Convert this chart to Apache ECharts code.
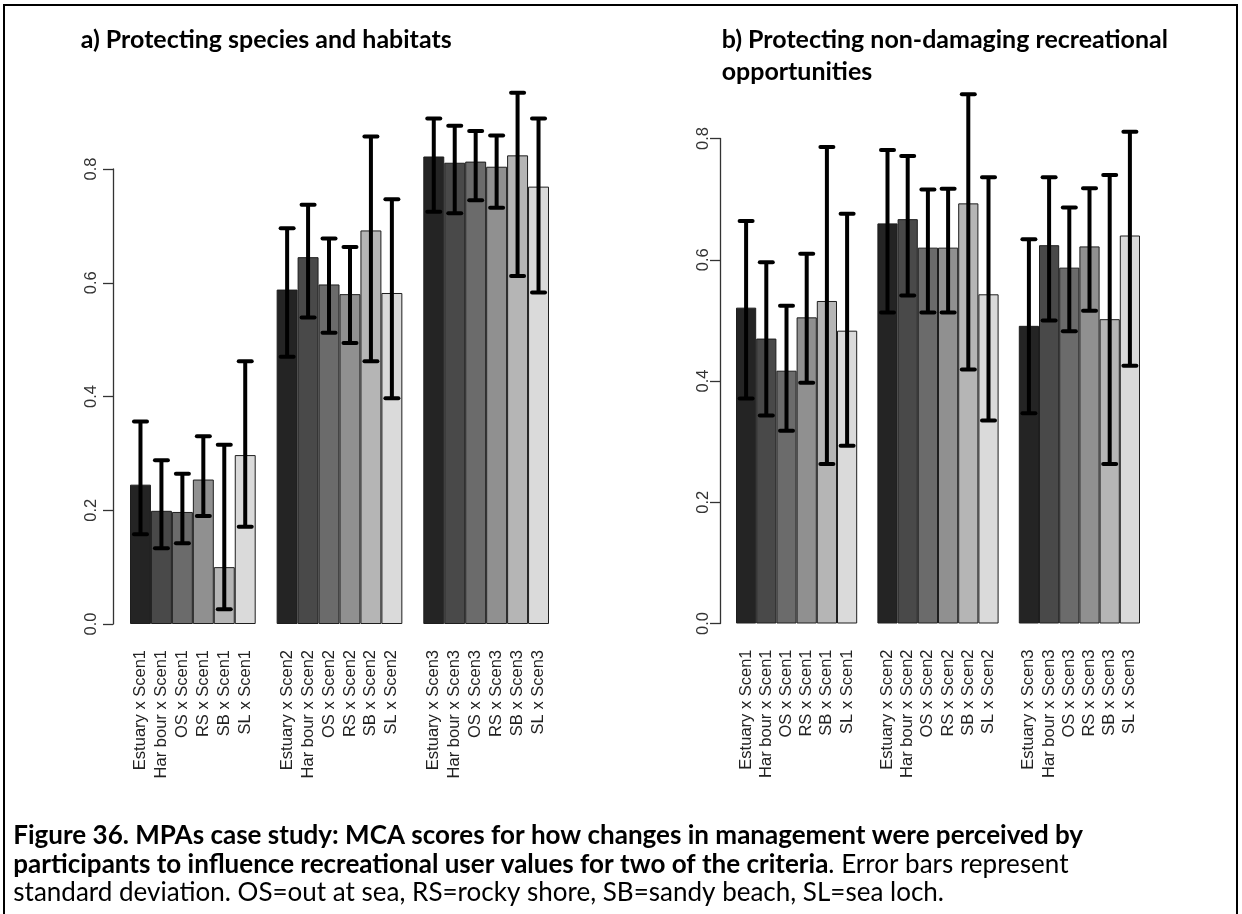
<!DOCTYPE html>
<html>
<head>
<meta charset="utf-8">
<title>Figure 36 - MPAs case study</title>
<script src="https://cdn.jsdelivr.net/npm/echarts@6.0.0/dist/echarts.min.js"></script>
<style>
    html, body { margin: 0; padding: 0; background: #fff; }
    #chart { width: 1242px; height: 914px; }
</style>
</head>
<body>
<div id="chart"></div>
<script>
// categories
const sites = ["Estuary", "Har bour", "OS", "RS", "SB", "SL"];
const scenarios = ["Scen1", "Scen2", "Scen3"];
const barColors = ["#242424", "#494949", "#6b6b6b", "#909090", "#b5b5b5", "#dadada"];

// a) Protecting species and habitats  (one row per scenario, one value per site)
const speciesMean = [
    [0.245, 0.199, 0.197, 0.254, 0.100, 0.297],
    [0.588, 0.645, 0.597, 0.580, 0.692, 0.582],
    [0.822, 0.811, 0.813, 0.804, 0.824, 0.769]
];
const speciesLow = [
    [0.158, 0.133, 0.142, 0.190, 0.026, 0.171],
    [0.470, 0.539, 0.512, 0.494, 0.462, 0.397],
    [0.725, 0.722, 0.745, 0.732, 0.612, 0.583]
];
const speciesHigh = [
    [0.356, 0.288, 0.264, 0.330, 0.315, 0.462],
    [0.696, 0.737, 0.678, 0.663, 0.857, 0.747],
    [0.889, 0.876, 0.867, 0.859, 0.934, 0.889]
];

// b) Protecting non-damaging recreational opportunities
const recMean = [
    [0.521, 0.470, 0.417, 0.505, 0.532, 0.483],
    [0.660, 0.667, 0.620, 0.620, 0.693, 0.543],
    [0.491, 0.624, 0.587, 0.622, 0.502, 0.640]
];
const recLow = [
    [0.371, 0.343, 0.318, 0.397, 0.263, 0.293],
    [0.513, 0.541, 0.513, 0.513, 0.419, 0.335],
    [0.347, 0.500, 0.482, 0.516, 0.263, 0.425]
];
const recHigh = [
    [0.664, 0.596, 0.524, 0.610, 0.786, 0.676],
    [0.781, 0.771, 0.716, 0.717, 0.873, 0.736],
    [0.634, 0.736, 0.686, 0.718, 0.740, 0.811]
];

const yMin = 0, yMax = 0.8, yStep = 0.2;

// 每个场景之间空一格（R barplot beside=TRUE 的样子）
const slotLabels = [];
scenarios.forEach((s, g) => {
    if (g > 0) slotLabels.push("");
    sites.forEach(site => slotLabels.push(site + " x " + s));
});
const slotOf = (g, i) => g * (sites.length + 1) + i;

function barData(mean) {
    const out = slotLabels.map(() => "-");
    mean.forEach((row, g) => row.forEach((v, i) => {
        out[slotOf(g, i)] = { value: v, itemStyle: { color: barColors[i] } };
    }));
    return out;
}
function errData(low, high) {
    const out = [];
    low.forEach((row, g) => row.forEach((v, i) => out.push([slotOf(g, i), v, high[g][i]])));
    return out;
}

function renderErr(params, api) {
    const lo = api.coord([api.value(0), api.value(1)]);
    const hi = api.coord([api.value(0), api.value(2)]);
    const half = 6.5;
    const st = { stroke: "#000", lineWidth: 4, lineCap: "round" };
    return {
        type: "group",
        children: [
            { type: "line", shape: { x1: lo[0], y1: lo[1], x2: hi[0], y2: hi[1] }, style: { stroke: "#000", lineWidth: 4 } },
            { type: "line", shape: { x1: lo[0] - half, y1: lo[1], x2: lo[0] + half, y2: lo[1] }, style: st },
            { type: "line", shape: { x1: hi[0] - half, y1: hi[1], x2: hi[0] + half, y2: hi[1] }, style: st }
        ]
    };
}

const labelFont = "'Liberation Sans', Arial, sans-serif";
const docFont = "Lato";

const measureCtx = document.createElement("canvas").getContext("2d");
function fitFont(text, weight, width) {
    measureCtx.font = weight + " 100px " + docFont;
    return 100 * width / measureCtx.measureText(text).width;
}

const grids = [
    { left: 130, top: 169, width: 419, height: 455 },
    { left: 736, top: 138.5, width: 404, height: 485 }
];
const yOffsets = [17, 16];
const yLabelMargins = [13, 8];

const xAxes = grids.map((g, k) => ({
    type: "category", gridIndex: k, data: slotLabels,
    axisLine: { show: false }, axisTick: { show: false },
    axisLabel: { rotate: 90, interval: 0, margin: 26, fontSize: 16.5, fontFamily: labelFont, color: "#222" }
}));
const yAxes = grids.map((g, k) => ({
    type: "value", gridIndex: k, min: yMin, max: yMax, interval: yStep, offset: yOffsets[k],
    splitLine: { show: false },
    axisLine: { show: true, lineStyle: { color: "#333", width: 1.3 } },
    axisTick: { show: true, length: 10, lineStyle: { color: "#333", width: 1.3 } },
    axisLabel: { rotate: 90, margin: yLabelMargins[k], fontSize: 16.5, fontFamily: labelFont, color: "#333",
        formatter: v => v.toFixed(1) }
}));

const panels = [[speciesMean, speciesLow, speciesHigh], [recMean, recLow, recHigh]];
const series = [];
panels.forEach((p, k) => {
    series.push({
        type: "bar", xAxisIndex: k, yAxisIndex: k, data: barData(p[0]),
        barCategoryGap: "0%", clip: false,
        itemStyle: { borderColor: "#1e1e1e", borderWidth: 1 }
    });
    series.push({
        type: "custom", xAxisIndex: k, yAxisIndex: k, data: errData(p[1], p[2]),
        renderItem: renderErr, clip: false, z: 5,
        encode: { x: 0, y: [1, 2] }
    });
});

const titleA = "a) Protecting species and habitats";
const titleB1 = "b) Protecting non-damaging recreational";
const titleB2 = "opportunities";
const capLine1 = "Figure 36. MPAs case study: MCA scores for how changes in management were perceived by";
const capLine2Bold = "participants to influence recreational user values for two of the criteria";
const capLine2 = ". Error bars represent";
const capLine3 = "standard deviation. OS=out at sea, RS=rocky shore, SB=sandy beach, SL=sea loch.";

const titleSize = fitFont(titleA, "bold", 371);
const capSize = fitFont(capLine1, "bold", 1070);

function txt(text, x, y, size, weight) {
    return { type: "text", x: x, y: y, style: { text: text, fontFamily: docFont, fontSize: size, fontWeight: weight,
        fill: "#000", textVerticalAlign: "middle", verticalAlign: "middle" } };
}

const chart = echarts.init(document.getElementById("chart"));
chart.setOption({
    animation: false,
    backgroundColor: "#fff",
    grid: grids,
    xAxis: xAxes,
    yAxis: yAxes,
    series: series,
    graphic: [
        { type: "rect", shape: { x: 4, y: 5, width: 1233, height: 930 }, style: { fill: null, stroke: "#000", lineWidth: 2 }, z: 0 },
        txt(titleA, 80.7, 49 - 0.36 * titleSize, titleSize, "bold"),
        txt(titleB1, 721.7, 49 - 0.36 * titleSize, titleSize, "bold"),
        txt(titleB2, 721.7, 81 - 0.36 * titleSize, titleSize, "bold"),
        txt(capLine1, 13.3, 844.7 - 0.36 * capSize, capSize, "bold"),
        {
            type: "text", x: 13.3, y: 873.5 - 0.36 * capSize,
            style: {
                text: "{b|" + capLine2Bold + "}{n|" + capLine2 + "}",
                verticalAlign: "middle", textVerticalAlign: "middle",
                rich: {
                    b: { fontFamily: docFont, fontSize: capSize, fontWeight: "bold", fill: "#000", color: "#000" },
                    n: { fontFamily: docFont, fontSize: capSize, fontWeight: "normal", fill: "#000", color: "#000" }
                }
            }
        },
        txt(capLine3, 13.3, 902 - 0.36 * capSize, capSize, "normal")
    ]
});
</script>
</body>
</html>
